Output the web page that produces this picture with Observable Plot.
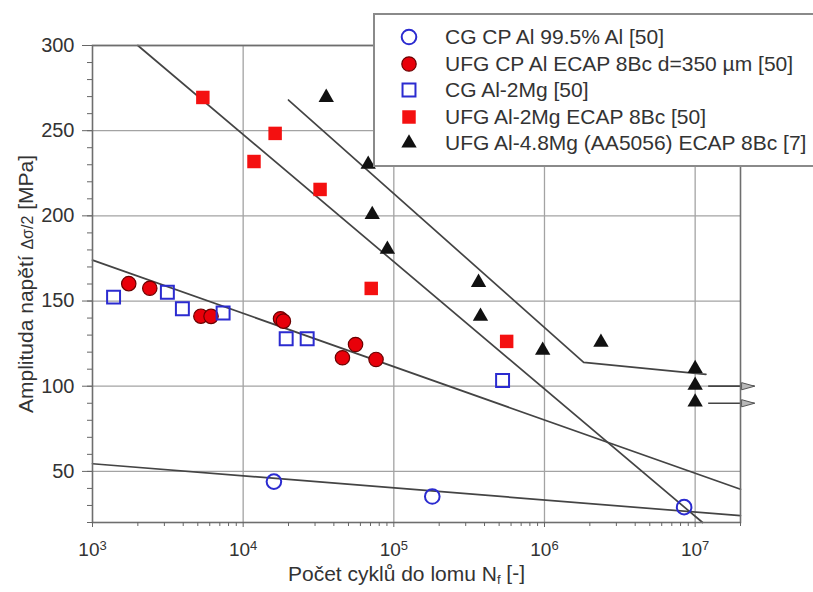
<!DOCTYPE html>
<html><head><meta charset="utf-8">
<script src="https://cdn.jsdelivr.net/npm/d3@7"></script>
<script src="https://cdn.jsdelivr.net/npm/@observablehq/plot@0.6"></script>
<style>
html,body{margin:0;padding:0;background:#fff;overflow:hidden;}
#wrap{position:relative;width:813px;height:592px;font-family:"Liberation Sans",Arial,Helvetica,sans-serif;}
#legend{position:absolute;left:373px;top:13px;width:460px;height:154px;border:2px solid #8a8a8a;background:#fff;box-sizing:border-box;}
.row{position:absolute;left:0;height:26px;width:450px;}
.row svg{position:absolute;left:24px;top:3px;}
.row span{position:absolute;left:70px;top:0;line-height:26px;white-space:nowrap;font-size:21px;color:#333;}
</style></head>
<body>
<div id="wrap"><div id="chart"></div><div id="legend"></div></div>
<script>
// ---- data ----
const cgAlN  = [16000, 180000, 8450000];
const cgAlS  = [44, 35.3, 29];
const ufgAlN = [1740, 2400, 5240, 6120, 17700, 18500, 45600, 55700, 76200];
const ufgAlS = [160.2, 157.5, 141.1, 141, 139.6, 138.2, 116.7, 124.5, 115.7];
const cg2MgN = [1380, 3140, 3950, 7360, 19300, 26600, 527000];
const cg2MgS = [152.3, 155.2, 145.5, 143, 127.9, 127.9, 103.4];
const ufg2MgN = [5400, 11800, 16300, 32400, 70800, 561000];
const ufg2MgS = [269.5, 231.9, 248.4, 215.5, 157.4, 126.3];
const ufg48MgN = [35600, 67600, 71900, 90600, 365000, 376000, 973000, 2370000, 1e7, 1e7, 1e7];
const ufg48MgS = [269.5, 230.2, 200.8, 180.3, 160.9, 141, 121, 125.7, 110.4, 100.5, 90.7];

// fitted lines (N, stress)
const fitCGAl   = [[1e3, 54.5], [2e7, 24]];
const fitUFGAl  = [[1e3, 174], [2e7, 39.5]];
const fit2Mg    = [[2000, 300], [1.12e7, 20]];
const fit48Mg   = [[2e4, 268], [1.82e6, 114], [1.18e7, 107]];

// run-out arrows
const runoutS  = [100, 90];
const runoutN1 = 1.22e7;
const runoutN2 = 2.48e7;

const seriesNames = [
  "CG CP Al 99.5% Al [50]",
  "UFG CP Al ECAP 8Bc d=350 \u00b5m [50]",
  "CG Al-2Mg [50]",
  "UFG Al-2Mg ECAP 8Bc [50]",
  "UFG Al-4.8Mg (AA5056) ECAP 8Bc [7]"
];

// axis ticks
const yMajor = [50, 100, 150, 200, 250, 300];
const yMinor = d3.range(20, 301, 10);
const xMajor = [1e3, 1e4, 1e5, 1e6, 1e7];
const xMinor = [];
for (let k = 3; k <= 7; k++) for (let m = 2; m <= 9; m++) { const v = m * 10 ** k; if (v <= 2e7) xMinor.push(v); }

// ---- styles per series ----
const styles = [
  {symbol: "circle", fill: "none", stroke: "#2b2bd0", strokeWidth: 2, r: 7.3},
  {symbol: "circle", fill: "#e8000a", stroke: "#6a0000", strokeWidth: 1.2, r: 7.2},
  {symbol: "square", fill: "none", stroke: "#2b2bd0", strokeWidth: 2, r: 7.3},
  {symbol: "square", fill: "#f41010", stroke: "none", strokeWidth: 0, r: 7.6},
  {symbol: "triangle", fill: "#111", stroke: "none", strokeWidth: 0, r: 5.7}
];
const seriesN = [cgAlN, ufgAlN, cg2MgN, ufg2MgN, ufg48MgN];
const seriesS = [cgAlS, ufgAlS, cg2MgS, ufg2MgS, ufg48MgS];

const points = seriesN.map((ns, i) => ns.map((n, j) => ({n, s: seriesS[i][j]})));
const fits = [fitCGAl, fitUFGAl, fit2Mg, fit48Mg].map(f => f.map(([n, s]) => ({n, s})));
const arrows = runoutS.map(s => ({n1: runoutN1, n2: runoutN2, s}));

const headSymbol = {draw(ctx) { ctx.moveTo(0, 0); ctx.lineTo(-13, -3.6); ctx.lineTo(-13, 3.6); ctx.closePath(); }};

const lineColor = "#444";
const gridColor = "#a3a3a3";

const chart = Plot.plot({
  width: 813, height: 592,
  marginLeft: 92, marginRight: 73, marginTop: 45, marginBottom: 70,
  style: {fontFamily: '"Liberation Sans", Arial, Helvetica, sans-serif', color: "#333", background: "#fff"},
  x: {type: "log", domain: [1e3, 2e7], label: null},
  y: {domain: [20, 300], label: null},
  marks: [
    Plot.ruleX(xMajor.slice(1), {stroke: gridColor, strokeWidth: 1.3}),
    Plot.ruleY(yMajor, {stroke: gridColor, strokeWidth: 1.3}),
    ...fits.map(f => Plot.line(f, {x: "n", y: "s", stroke: lineColor, strokeWidth: 1.7})),
    Plot.link(arrows, {x1: "n1", x2: "n2", y1: "s", y2: "s", stroke: lineColor, strokeWidth: 1.7}),
    Plot.dot(arrows, {x: "n2", y: "s", symbol: headSymbol, r: 4, fill: "#b8b8b8", stroke: "#555", strokeWidth: 1}),
    ...points.map((p, i) => Plot.dot(p, {x: "n", y: "s", ...styles[i]})),
    Plot.frame({stroke: "#6e6e6e", strokeWidth: 1.6}),
    Plot.axisY(yMajor, {tickSize: 10, tickPadding: 8, fontSize: 20, stroke: "#666", label: null}),
    Plot.axisY(yMinor, {tickSize: 5, tickFormat: () => "", stroke: "#666", label: null}),
    Plot.axisX(xMajor, {tickSize: 5, tickPadding: 15, fontSize: 19, stroke: "#666", tickFormat: d => "10^" + Math.round(Math.log10(d)), label: null}),
    Plot.axisX(xMinor, {tickSize: 4, tickFormat: () => "", stroke: "#666", label: null}),
    Plot.text(["Amplituda nap\u011bt\u00ed \u0394\u03c3/2 [MPa]"], {frameAnchor: "left", textAnchor: "middle", dx: -66, rotate: -90, fontSize: 21, fill: "#333", text: d => d}),
    Plot.text(["Po\u010det cykl\u016f do lomu N_f [-]"], {frameAnchor: "bottom", textAnchor: "middle", dy: 58, dx: -10, fontSize: 21, fill: "#333", text: d => d})
  ]
});
document.getElementById("chart").appendChild(chart);

// rich text post-processing
const svgSel = d3.select(chart);
svgSel.selectAll("text").each(function () {
  const t = this.textContent;
  const sel = d3.select(this);
  let m = t.match(/^10\^(\d+)$/);
  if (m) {
    sel.text(null);
    sel.append("tspan").text("10");
    sel.append("tspan").attr("font-size", 13).attr("dy", "-0.45em").text(m[1]);
  } else if (t.startsWith("Amplituda")) {
    sel.text(null);
    sel.append("tspan").text("Amplituda nap\u011bt\u00ed ");
    sel.append("tspan").attr("font-size", 16).text("\u0394\u03c3/2");
    sel.append("tspan").text(" [MPa]");
  } else if (t.startsWith("Po\u010det")) {
    sel.text(null);
    sel.append("tspan").text("Po\u010det cykl\u016f do lomu N");
    sel.append("tspan").attr("font-size", 13).attr("dy", "0.3em").text("f");
    sel.append("tspan").attr("dy", "-0.2em").text(" [-]");
  }
});

// legend
const legend = d3.select("#legend");
const rowCenters = [22, 48.5, 75, 101.5, 128];
seriesNames.forEach((name, i) => {
  const row = legend.append("div").attr("class", "row").style("top", (rowCenters[i] - 13) + "px");
  const st = styles[i];
  const sym = {circle: d3.symbolCircle, square: d3.symbolSquare, triangle: d3.symbolTriangle}[st.symbol];
  const s = row.append("svg").attr("width", 20).attr("height", 20);
  s.append("path").attr("transform", "translate(10,10)")
    .attr("d", d3.symbol(sym, Math.PI * st.r * st.r)())
    .attr("fill", st.fill).attr("stroke", st.stroke).attr("stroke-width", st.strokeWidth);
  row.append("span").text(name);
});
</script>
</body></html>
